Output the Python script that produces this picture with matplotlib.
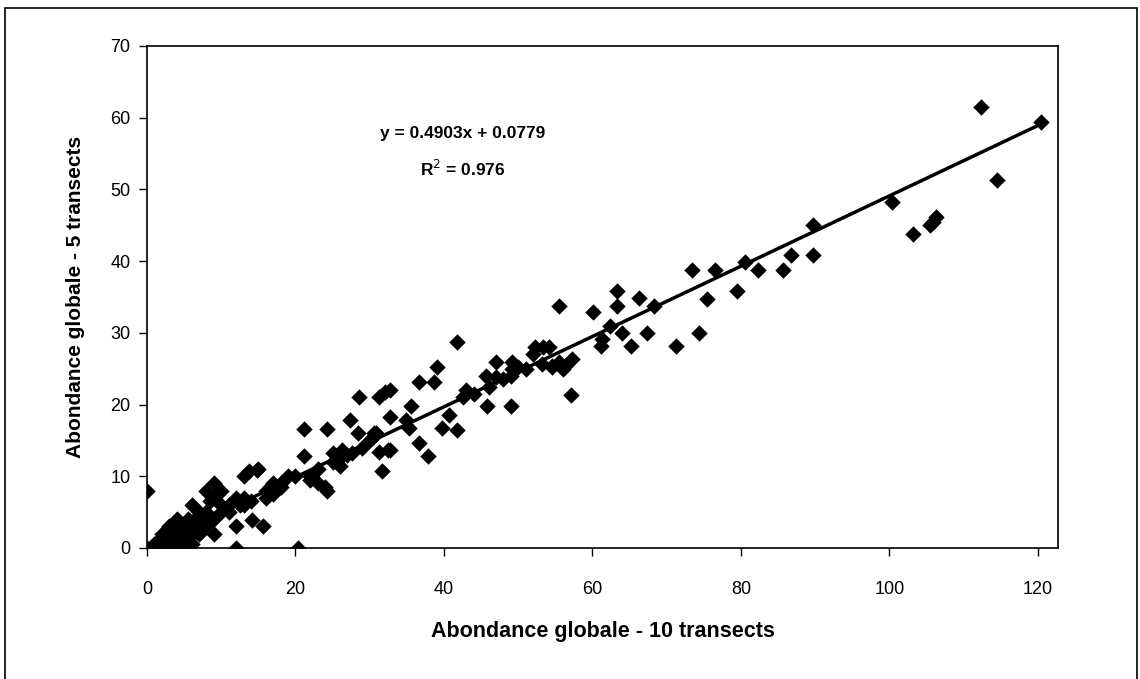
import matplotlib.pyplot as plt
from matplotlib.patches import Rectangle

plt.rcParams['font.family'] = ['Liberation Sans', 'DejaVu Sans']

# abondance globale : 10 transects (x) contre 5 transects (y)
x_10 = [112.3, 120.4, 114.5, 100.3, 103.2, 105.4, 106.3, 105.8,
        89.7, 89.7, 86.7, 85.6, 82.3, 80.6, 79.4, 76.5, 73.4, 75.4, 74.3, 71.2,
        68.3, 66.3, 63.3, 63.3, 60.1, 62.4, 64.0, 67.3, 65.2, 61.2, 61.3, 57.1,
        55.5, 57.3, 55.5, 53.3, 56.5, 56.0, 54.5,
        54.2, 52.2, 53.2, 54.6, 51.0, 49.2, 49.2, 47.0, 45.7, 45.8, 49.0, 43.0,
        41.8, 39.0, 38.7, 36.7, 35.6, 32.7, 32.7, 34.9, 36.7, 37.8, 39.8, 41.8,
        40.7, 42.5, 47.0, 50.0, 52.0, 49.0, 44.0, 46.0, 48.0,
        28.5, 32.0, 31.3, 35.3, 30.6, 31.3, 32.7, 30.4, 25.0, 26.3, 27.6,
        21.2, 24.3, 27.3, 28.4, 21.2, 31.6, 30.9, 32.4, 24.2, 14.8, 15.6, 20.3,
        20.0, 22.0, 23.0, 25.0, 26.0, 27.0, 22.0, 23.0, 24.0, 29.0, 30.0, 26.0,
        19.0, 18.0, 17.0, 16.0, 16.0, 17.0, 18.0, 13.8, 15.0, 13.0, 14.2, 16.5,
        0.0, 0.0, 0.5, 1.0, 1.0, 1.5, 2.0, 2.0, 2.0, 2.5, 3.0, 3.0, 3.0, 3.5,
        4.0, 4.0, 4.0, 4.0, 4.5, 5.0, 5.0, 5.0, 5.0, 5.5, 6.0, 6.0, 6.0, 6.5,
        7.0, 7.0, 7.0, 7.0, 7.5, 8.0, 8.0, 8.0, 8.5, 9.0, 9.0, 9.0, 9.0, 10.0,
        10.0, 10.0, 11.0, 11.0, 12.0, 12.0, 12.0, 13.0, 13.0, 14.0, 12.5, 6.0]
y_5 = [61.5, 59.4, 51.3, 48.3, 43.8, 45.0, 46.2, 45.5,
       45.0, 40.9, 40.9, 38.7, 38.7, 39.9, 35.9, 38.7, 38.7, 34.7, 30.0, 28.2,
       33.8, 34.9, 35.9, 33.8, 32.9, 31.0, 30.0, 30.0, 28.2, 28.2, 29.1, 21.3,
       33.8, 26.3, 25.9, 28.0, 25.5, 25.0, 25.3,
       28.0, 28.0, 25.6, 25.4, 25.0, 26.0, 25.0, 26.0, 24.0, 19.8, 19.8, 22.1,
       28.7, 25.2, 23.1, 23.1, 19.8, 22.1, 18.2, 17.9, 14.7, 12.8, 16.8, 16.5,
       18.6, 21.0, 23.8, 25.2, 27.0, 24.0, 21.5, 22.5, 23.5,
       21.1, 21.7, 21.1, 16.8, 16.1, 13.4, 13.7, 15.5, 13.3, 13.7, 13.3,
       16.6, 16.6, 17.8, 16.1, 12.8, 10.8, 16.1, 13.7, 7.9, 10.9, 3.0, 0.0,
       10.0, 10.0, 11.0, 12.0, 12.5, 13.0, 9.5, 9.0, 8.5, 14.0, 15.0, 11.5,
       10.0, 9.0, 9.0, 8.0, 7.0, 7.5, 8.5, 10.7, 11.0, 10.0, 3.9, 8.5,
       8.0, 0.0, 0.0, 0.0, 0.5, 1.0, 0.0, 1.0, 2.0, 1.5, 0.0, 2.0, 3.0, 2.5,
       0.0, 1.0, 3.0, 4.0, 2.0, 0.0, 1.0, 2.0, 3.0, 4.0, 2.0, 3.0, 6.0, 4.0,
       2.0, 3.0, 4.0, 5.0, 3.5, 3.0, 5.0, 8.0, 6.5, 2.0, 4.0, 9.0, 7.0, 8.0,
       5.0, 6.0, 5.0, 6.0, 7.0, 3.0, 0.0, 7.0, 6.0, 6.5, 6.0, 0.5]

# droite de tendance (Excel)
slope = 0.4903
intercept = 0.0779
r2 = 0.976

fig = plt.figure(figsize=(11.4, 6.79), dpi=100)
ax = fig.add_axes([147 / 1140, 1 - 548 / 679, (1058 - 147) / 1140, (548 - 46) / 679])

ax.scatter(x_10, y_5, marker='D', s=70, color='black', zorder=3, linewidths=0)

x_line = [min(x_10), max(x_10)]
ax.plot(x_line, [slope * v + intercept for v in x_line], color='black', linewidth=2.5, zorder=2)

ax.text(42.5, 57.8, f"y = {slope}x + {intercept}", ha='center', va='center',
        fontsize=12.5, fontweight='bold')
ax.text(42.5, 52.8, f"R$^2$ = {r2}", ha='center', va='center', fontsize=12.5, fontweight='bold')

ax.set_xlim(0, 122.7)
ax.set_ylim(0, 70)
ax.set_xticks(range(0, 121, 20))
ax.set_yticks(range(0, 71, 10))
ax.tick_params(direction='out', length=6, width=1, labelsize=13)
ax.tick_params(axis='x', pad=18)
ax.tick_params(axis='y', pad=6)
for sp in ax.spines.values():
    sp.set_linewidth(1.2)

ax.set_xlabel("Abondance globale - 10 transects", fontsize=15.5, fontweight='bold', labelpad=16)
ax.set_ylabel("Abondance globale - 5 transects", fontsize=15, fontweight='bold', labelpad=18)

# cadre extérieur
fig.patches.append(Rectangle((5 / 1140, -0.01), 1132 / 1140, 1 - 8 / 679 + 0.01,
                             transform=fig.transFigure, fill=False, edgecolor='black',
                             linewidth=1.2))

fig.savefig("out.png", dpi=100)
